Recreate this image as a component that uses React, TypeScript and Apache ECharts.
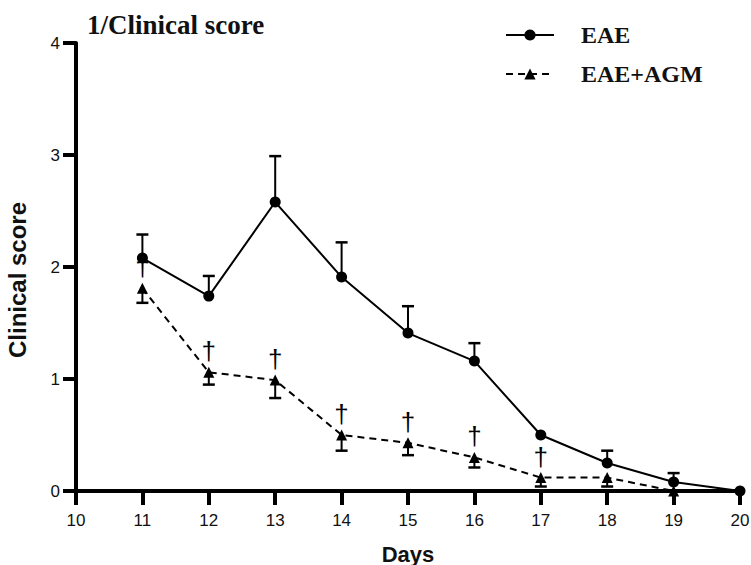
import React, { useEffect, useRef } from "react";
import * as echarts from "echarts";

const days = [11, 12, 13, 14, 15, 16, 17, 18, 19, 20];
const eaeMean = [2.08, 1.74, 2.58, 1.91, 1.41, 1.16, 0.5, 0.25, 0.08, 0];
const eaeSem = [0.21, 0.18, 0.41, 0.31, 0.24, 0.16, 0, 0.11, 0.08, 0];
const agmDays = [11, 12, 13, 14, 15, 16, 17, 18, 19];
const agmMean = [1.81, 1.06, 0.99, 0.5, 0.43, 0.3, 0.12, 0.12, 0];
const agmSem = [0.13, 0.11, 0.16, 0.14, 0.11, 0.09, 0.08, 0.08, 0];
const daggerDays = [11, 12, 13, 14, 15, 16, 17];
const xTicks = [10, 11, 12, 13, 14, 15, 16, 17, 18, 19, 20];
const yTicks = [0, 1, 2, 3, 4];

const SANS = "'Liberation Sans', Arial, sans-serif";
const SERIF = "'Liberation Serif', 'Times New Roman', serif";

export default function App() {
  const ref = useRef<HTMLDivElement>(null);
  useEffect(() => {
    if (!ref.current) return;
    const chart = echarts.init(ref.current, undefined, { renderer: "svg" });

    const eaeErr = days.map((d, i) => [d, eaeMean[i], eaeMean[i] + eaeSem[i]]);
    const agmErr = agmDays.map((d, i) => [d, agmMean[i], agmMean[i] - agmSem[i]]);
    const daggers = daggerDays.map((d) => [d, agmMean[agmDays.indexOf(d)]]);

    const errRender = (params: any, api: any) => {
      const x = api.value(0);
      const base = api.coord([x, api.value(1)]);
      const end = api.coord([x, api.value(2)]);
      if (Math.abs(base[1] - end[1]) < 1) return { type: "group", children: [] };
      return {
        type: "group",
        children: [
          {
            type: "line",
            shape: { x1: base[0], y1: base[1], x2: end[0], y2: end[1] },
            style: { stroke: "#000", lineWidth: 2 },
          },
          {
            type: "line",
            shape: { x1: end[0] - 6, y1: end[1], x2: end[0] + 6, y2: end[1] },
            style: { stroke: "#000", lineWidth: 2.5 },
          },
        ],
      };
    };

    chart.setOption({
      animation: false,
      backgroundColor: "#fff",
      title: {
        text: "1/Clinical score",
        left: 82,
        top: 6,
        textStyle: { fontFamily: SERIF, fontSize: 27, fontWeight: "bold", color: "#111" },
      },
      legend: {
        orient: "vertical",
        left: 500,
        top: 18,
        itemWidth: 48,
        itemHeight: 14,
        itemGap: 15,
        data: ["EAE", "EAE+AGM"],
        textStyle: {
          fontFamily: SERIF,
          fontSize: 24,
          fontWeight: "bold",
          color: "#111",
          padding: [0, 0, 0, 22],
        },
      },
      grid: {
        left: 76,
        right: 11,
        top: 43,
        bottom: 74,
        containLabel: false,
        outerBoundsMode: "none",
      },
      xAxis: {
        type: "value",
        min: 10,
        max: 20,
        interval: 1,
        name: "Days",
        nameLocation: "middle",
        nameGap: 52,
        nameTextStyle: { fontFamily: SANS, fontSize: 22, fontWeight: "bold", color: "#111" },
        axisLine: { onZero: false, lineStyle: { color: "#000", width: 4 } },
        axisTick: { length: 14, lineStyle: { color: "#000", width: 4 } },
        axisLabel: {
          fontFamily: SANS,
          fontSize: 17,
          color: "#111",
          margin: 21,
          formatter: (v: number) => (xTicks.includes(v) ? String(v) : ""),
        },
        splitLine: { show: false },
      },
      yAxis: {
        type: "value",
        min: 0,
        max: 4,
        interval: 1,
        name: "Clinical score",
        nameLocation: "middle",
        nameGap: 47,
        nameTextStyle: {
          fontFamily: SANS,
          fontSize: 24,
          fontWeight: "bold",
          color: "#111",
          padding: [0, 26, 0, 0],
        },
        axisLine: { show: true, lineStyle: { color: "#000", width: 4 } },
        axisTick: { show: true, length: 13, lineStyle: { color: "#000", width: 4 } },
        axisLabel: {
          fontFamily: SANS,
          fontSize: 17,
          color: "#111",
          margin: 16,
          formatter: (v: number) => (yTicks.includes(v) ? String(v) : ""),
        },
        splitLine: { show: false },
      },
      series: [
        {
          name: "EAE",
          type: "line",
          data: days.map((d, i) => [d, eaeMean[i]]),
          symbol: "circle",
          symbolSize: 11,
          clip: false,
          itemStyle: { color: "#000" },
          lineStyle: { color: "#000", width: 2 },
          z: 5,
        },
        {
          name: "EAE+AGM",
          type: "line",
          data: agmDays.map((d, i) => [d, agmMean[i]]),
          symbol: "triangle",
          symbolSize: 11,
          clip: false,
          itemStyle: { color: "#000" },
          lineStyle: { color: "#000", width: 2, type: [7, 5] },
          z: 4,
        },
        {
          type: "custom",
          data: eaeErr,
          renderItem: errRender,
          clip: false,
          z: 3,
          silent: true,
        },
        {
          type: "custom",
          data: agmErr,
          renderItem: errRender,
          clip: false,
          z: 3,
          silent: true,
        },
        {
          type: "custom",
          data: daggers,
          clip: false,
          z: 6,
          silent: true,
          renderItem: (params: any, api: any) => {
            const p = api.coord([api.value(0), api.value(1)]);
            return {
              type: "text",
              x: p[0],
              y: p[1] - 21,
              style: {
                text: "†",
                fontFamily: SANS,
                fontSize: 26,
                fill: "#000",
                align: "center",
                verticalAlign: "middle",
              },
            };
          },
        },
      ],
    });
    return () => chart.dispose();
  }, []);
  return <div ref={ref} style={{ width: 751, height: 565, position: "absolute", left: 0, top: 0 }} />;
}
